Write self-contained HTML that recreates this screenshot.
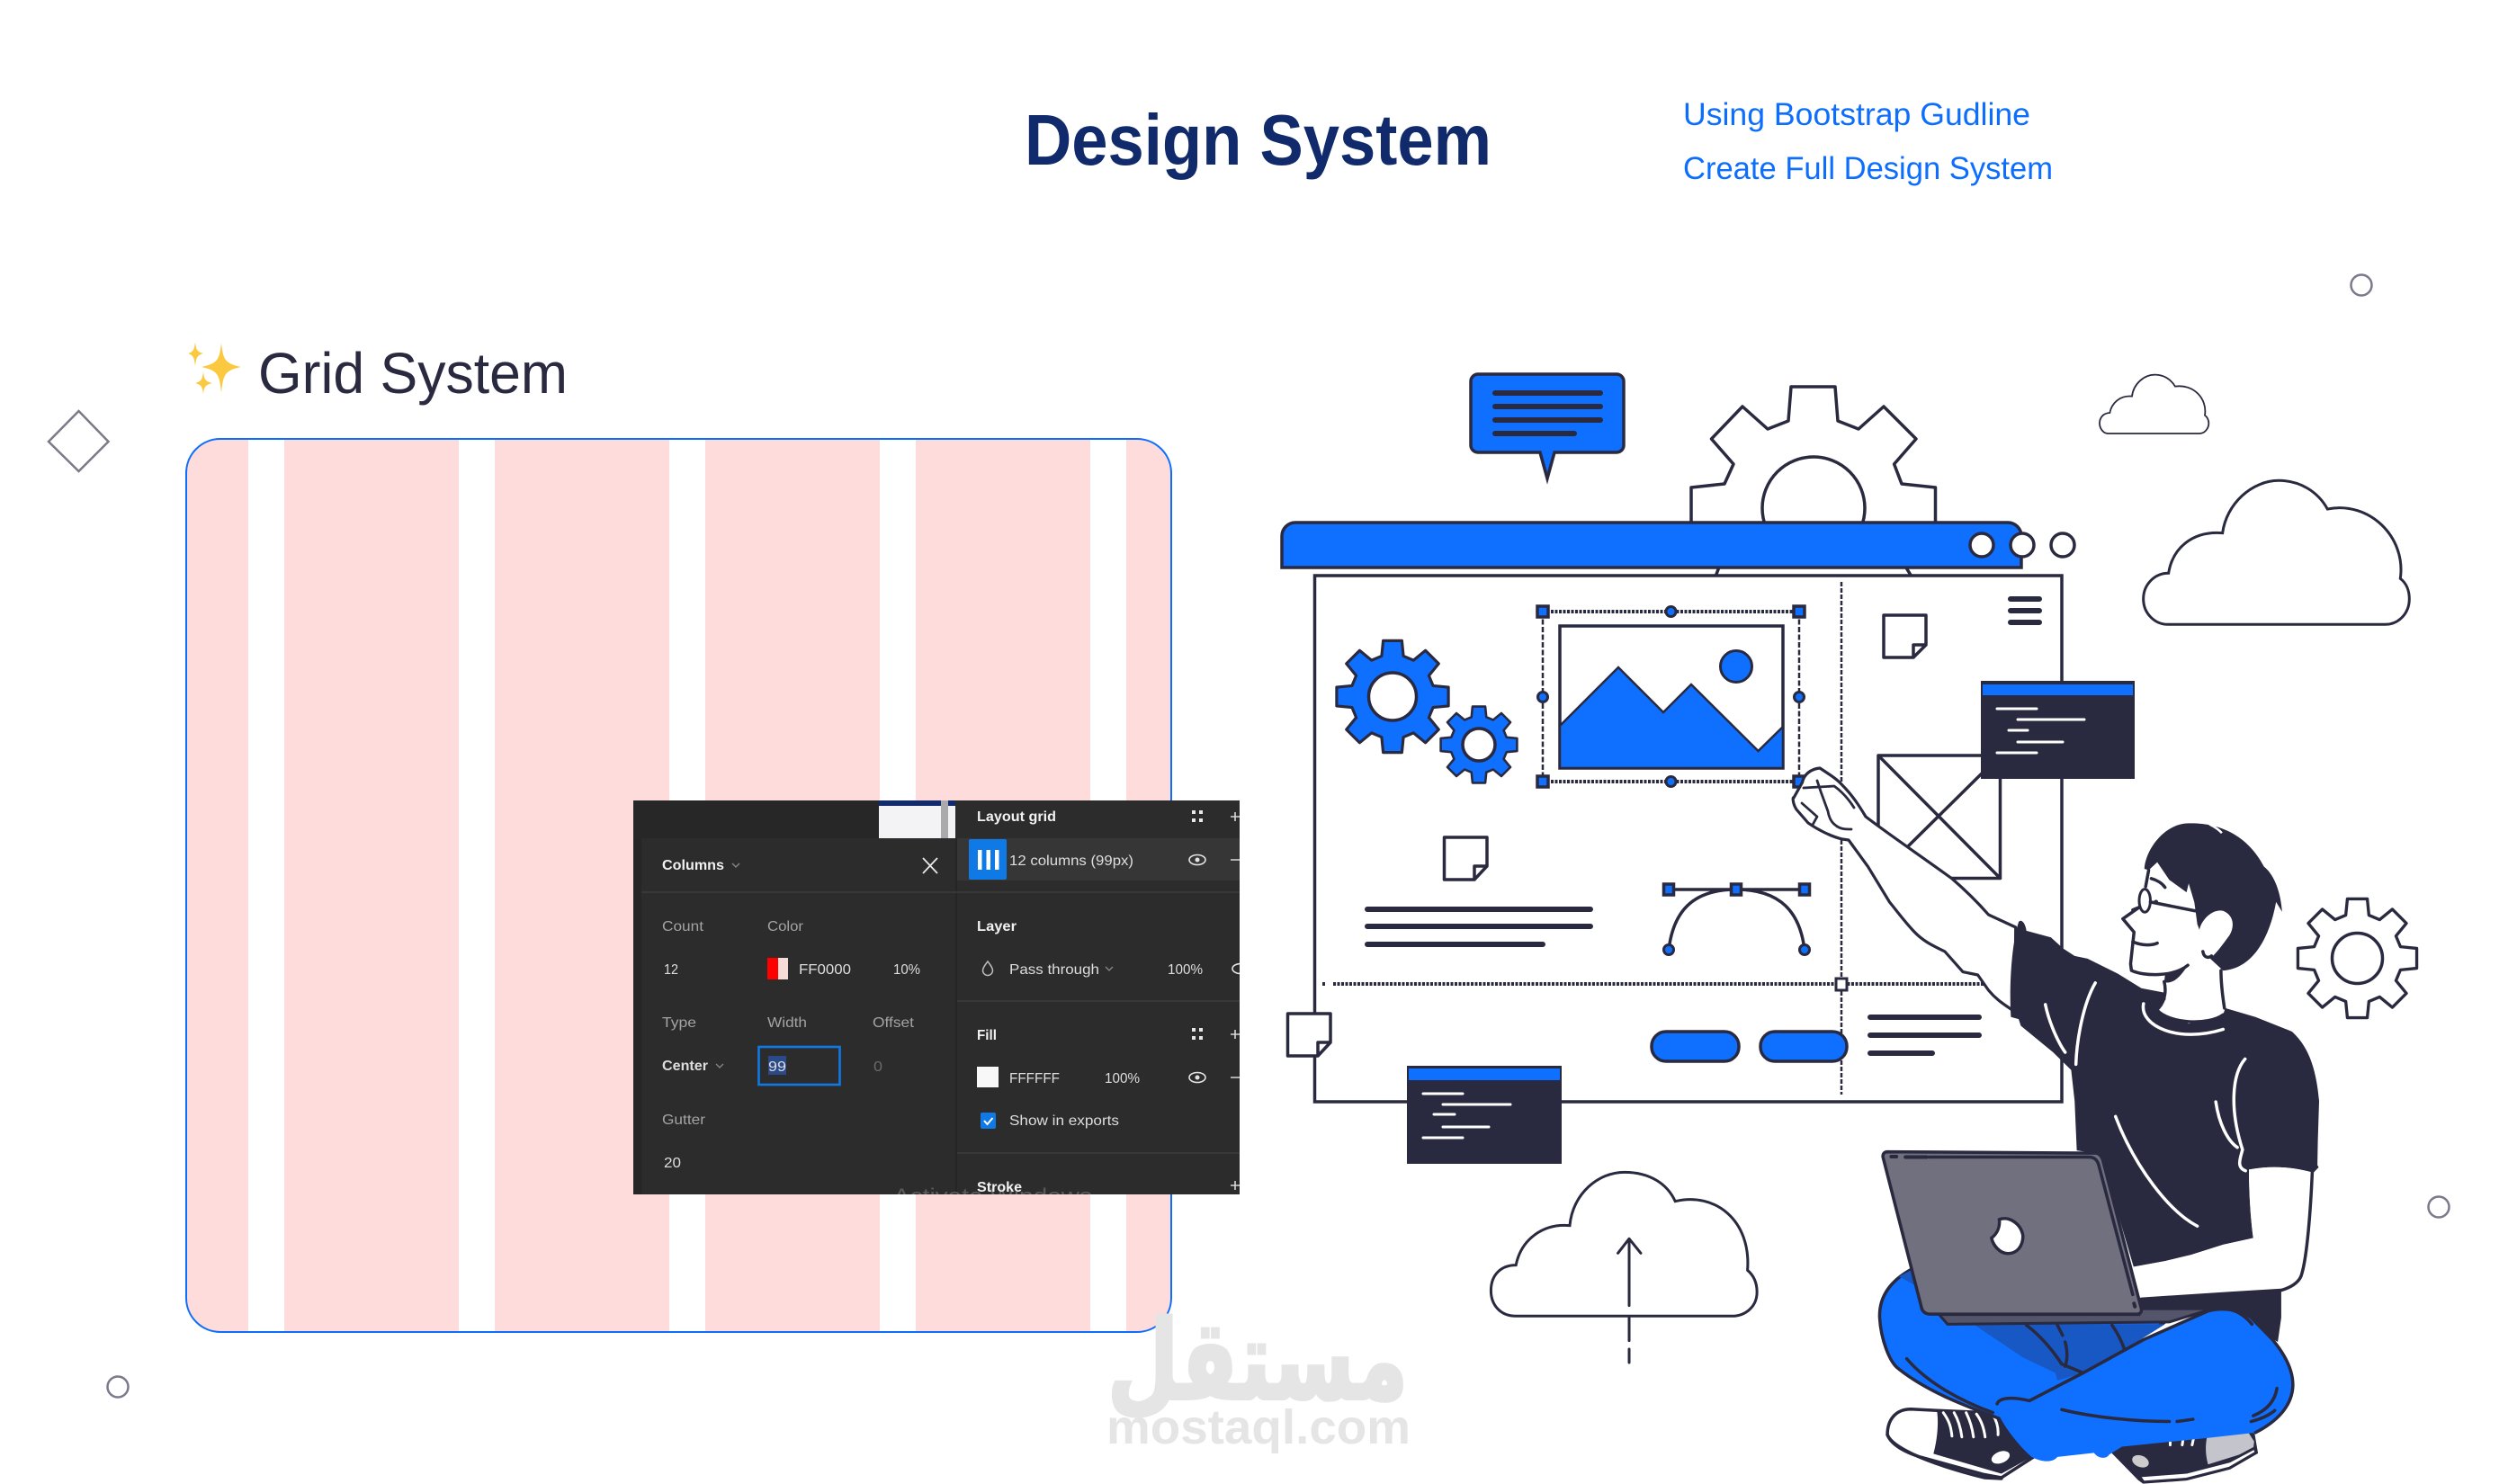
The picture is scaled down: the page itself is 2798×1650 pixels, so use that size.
<!DOCTYPE html>
<html>
<head>
<meta charset="utf-8">
<title>Design System</title>
<style>
html,body{margin:0;padding:0;background:#fff;width:2798px;height:1650px;overflow:hidden}
svg{display:block}
text{font-family:"Liberation Sans",sans-serif}
.u *{vector-effect:non-scaling-stroke}
.g{fill:#a3a3a3;font-size:16px}
.w{fill:#dedede;font-size:16px}
.b{fill:#f2f2f2;font-size:16px;font-weight:bold}
.n{stroke:#29293f;stroke-width:3.5;fill:none;stroke-linejoin:round;stroke-linecap:round}
.bar{stroke:#29293f;stroke-width:6;stroke-linecap:round;fill:none}
.code{stroke:#fff;stroke-width:3;stroke-linecap:round}
.h{fill:#0f6fff;stroke:#29293f;stroke-width:3.5}
.sl{stroke:#fff;stroke-width:3.5;fill:none;stroke-linecap:round}
</style>
</head>
<body>
<svg xmlns="http://www.w3.org/2000/svg" width="2798" height="1650" viewBox="0 0 2798 1650">
<defs>
<polygon id="gear" points="71.5,-19.2 98.6,-16.5 98.6,16.5 71.5,19.2 64.1,37 81.4,58.1 58.1,81.4 37,64.1 19.2,71.5 16.5,98.6 -16.5,98.6 -19.2,71.5 -37,64.1 -58.1,81.4 -81.4,58.1 -64.1,37 -71.5,19.2 -98.6,16.5 -98.6,-16.5 -71.5,-19.2 -64.1,-37 -81.4,-58.1 -58.1,-81.4 -37,-64.1 -19.2,-71.5 -16.5,-98.6 16.5,-98.6 19.2,-71.5 37,-64.1 58.1,-81.4 81.4,-58.1 64.1,-37"/>
<clipPath id="card"><rect x="207" y="487" width="1095" height="994" rx="38"/></clipPath>
<clipPath id="panel"><rect x="704" y="890" width="674" height="438"/></clipPath>
</defs>

<!-- header -->
<text x="1139" y="183" font-size="80" font-weight="bold" fill="#102a6b" textLength="519" lengthAdjust="spacingAndGlyphs">Design System</text>
<text x="1871" y="139" font-size="35" fill="#0d6efd" textLength="386" lengthAdjust="spacingAndGlyphs">Using Bootstrap Gudline</text>
<text x="1871" y="199" font-size="35" fill="#0d6efd" textLength="411" lengthAdjust="spacingAndGlyphs">Create Full Design System</text>

<!-- Grid system title -->
<path d="M246,381 C248,400 250,404 268,408 C250,412 248,416 246,437 C244,416 242,412 224,408 C242,404 244,400 246,381Z" fill="#fbc93f"/>
<path d="M217,380 C218,389 219,391 226,393 C219,395 218,398 217,407 C216,398 215,395 209,393 C215,391 216,389 217,380Z" fill="#fbc93f"/>
<path d="M226,413 C227,422 228,424 236,426 C228,428 227,430 226,438 C225,430 224,428 217,426 C224,424 225,422 226,413Z" fill="#fbc93f"/>
<text x="287" y="437" font-size="64" fill="#29293f" textLength="344" lengthAdjust="spacingAndGlyphs">Grid System</text>

<!-- decorations -->
<polygon points="87.5,457 120.5,491 87.5,524 54,491" fill="none" stroke="#7a7a88" stroke-width="2.5"/>
<circle cx="2625" cy="317" r="11.5" fill="none" stroke="#7a7a8c" stroke-width="2.5"/>
<circle cx="131" cy="1542" r="11.5" fill="none" stroke="#7a7a8c" stroke-width="2.5"/>
<circle cx="2711" cy="1342" r="11.5" fill="none" stroke="#7a7a8c" stroke-width="2.5"/>

<!-- grid card -->
<g clip-path="url(#card)" fill="#fedcdc">
<rect x="207" y="487" width="69" height="994"/>
<rect x="316" y="487" width="194" height="994"/>
<rect x="550" y="487" width="194" height="994"/>
<rect x="784" y="487" width="194" height="994"/>
<rect x="1018" y="487" width="194" height="994"/>
<rect x="1252" y="487" width="50" height="994"/>
</g>
<rect x="207" y="488" width="1095" height="993" rx="38" fill="none" stroke="#0d6efd" stroke-width="2"/>

<!-- dark figma panel -->
<g clip-path="url(#panel)">
<rect x="704" y="890" width="674" height="438" fill="#2c2c2c"/>
<rect x="704" y="890" width="9" height="438" fill="#262626"/>
<rect x="704" y="890" width="273" height="42" fill="#272727"/>
<rect x="1062" y="932" width="2" height="396" fill="#252525"/>
<rect x="977" y="890" width="85" height="42" fill="#f3f3f5"/>
<rect x="977" y="890" width="85" height="6" fill="#102a6b"/>
<rect x="1046" y="890" width="8" height="42" fill="#a9a9ae"/>
<rect x="1064" y="932" width="314" height="47" fill="#363636"/>
<rect x="1077" y="933" width="42" height="45" rx="2" fill="#0f7ae5"/>
<rect x="1087" y="945" width="4.5" height="22" fill="#fff"/>
<rect x="1096.5" y="945" width="4.5" height="22" fill="#fff"/>
<rect x="1106" y="945" width="4.5" height="22" fill="#fff"/>
<path d="M713,992H1378M1064,1113H1378M1064,1282H1378" stroke="#3d3d3d" stroke-width="1.5"/>
<text class="b" x="736" y="967" textLength="69" lengthAdjust="spacingAndGlyphs">Columns</text>
<path d="M814,960l4,4l4,-4M796,1183l4,4l4,-4M1229,1075l4,4l4,-4" stroke="#888" stroke-width="1.3" fill="none"/>
<path d="M1026,954l16,17M1042,954l-16,17" stroke="#e8e8e8" stroke-width="1.8"/>
<text class="g" x="736" y="1035" textLength="46" lengthAdjust="spacingAndGlyphs">Count</text>
<text class="g" x="853" y="1035" textLength="40" lengthAdjust="spacingAndGlyphs">Color</text>
<text class="w" x="738" y="1083" textLength="16" lengthAdjust="spacingAndGlyphs">12</text>
<rect x="853" y="1065" width="12" height="24" fill="#ff0000"/>
<rect x="865" y="1065" width="11" height="24" fill="#f6dcd6"/>
<text class="w" x="888" y="1083" textLength="58" lengthAdjust="spacingAndGlyphs">FF0000</text>
<text class="w" x="993" y="1083" textLength="30" lengthAdjust="spacingAndGlyphs">10%</text>
<text class="g" x="736" y="1142" textLength="38" lengthAdjust="spacingAndGlyphs">Type</text>
<text class="g" x="853" y="1142" textLength="44" lengthAdjust="spacingAndGlyphs">Width</text>
<text class="g" x="970" y="1142" textLength="46" lengthAdjust="spacingAndGlyphs">Offset</text>
<text class="w" x="736" y="1190" textLength="51" lengthAdjust="spacingAndGlyphs" font-weight="bold">Center</text>
<rect x="843.5" y="1164" width="90" height="42" fill="none" stroke="#0f7ae5" stroke-width="2.6"/>
<rect x="854" y="1174" width="20" height="21" fill="#2a4a8a"/>
<text class="w" x="854" y="1191" textLength="20" lengthAdjust="spacingAndGlyphs">99</text>
<text x="971" y="1191" font-size="16" fill="#6a6a6a" textLength="10" lengthAdjust="spacingAndGlyphs">0</text>
<text class="g" x="736" y="1250" textLength="48" lengthAdjust="spacingAndGlyphs">Gutter</text>
<text class="w" x="738" y="1298" textLength="19" lengthAdjust="spacingAndGlyphs">20</text>
<text class="b" x="1086" y="913" textLength="88" lengthAdjust="spacingAndGlyphs">Layout grid</text>
<text class="w" x="1122" y="962" textLength="138" lengthAdjust="spacingAndGlyphs">12 columns (99px)</text>
<text class="b" x="1086" y="1035" textLength="44" lengthAdjust="spacingAndGlyphs">Layer</text>
<text class="w" x="1122" y="1083" textLength="100" lengthAdjust="spacingAndGlyphs">Pass through</text>
<text class="w" x="1298" y="1083" textLength="39" lengthAdjust="spacingAndGlyphs">100%</text>
<text class="b" x="1086" y="1156" textLength="22" lengthAdjust="spacingAndGlyphs">Fill</text>
<text class="w" x="1122" y="1204" textLength="56" lengthAdjust="spacingAndGlyphs">FFFFFF</text>
<text class="w" x="1228" y="1204" textLength="39" lengthAdjust="spacingAndGlyphs">100%</text>
<text class="w" x="1122" y="1251" textLength="122" lengthAdjust="spacingAndGlyphs">Show in exports</text>
<text x="993" y="1338" font-size="24" fill="#5a5a5a" textLength="221" lengthAdjust="spacingAndGlyphs">Activate Windows</text>
<text class="b" x="1086" y="1325" textLength="50" lengthAdjust="spacingAndGlyphs">Stroke</text>
<rect x="1086" y="1186" width="24" height="23" fill="#f8f8f8"/>
<rect x="1090" y="1237" width="17" height="18" rx="2" fill="#0f7ae5"/>
<path d="M1094,1246l3.5,4l6,-7" stroke="#fff" stroke-width="2" fill="none"/>
<path d="M1098,1069c3,4 5.5,7 5.5,10a5.5,5.5 0 0 1 -11,0c0,-3 2.5,-6 5.5,-10z" fill="none" stroke="#bdbdbd" stroke-width="1.5"/>
<g fill="#e8e8e8">
<rect x="1325" y="901" width="4" height="4"/><rect x="1333" y="901" width="4" height="4"/><rect x="1325" y="910" width="4" height="4"/><rect x="1333" y="910" width="4" height="4"/>
<rect x="1325" y="1143" width="4" height="4"/><rect x="1333" y="1143" width="4" height="4"/><rect x="1325" y="1152" width="4" height="4"/><rect x="1333" y="1152" width="4" height="4"/>
</g>
<path d="M1368,908H1378M1373,903V913M1368,956H1378M1368,1198H1378M1368,1150H1378M1373,1145V1155M1368,1318H1378M1373,1313V1323" stroke="#d8d8d8" stroke-width="1.6"/>
<g fill="none" stroke="#e4e4e4" stroke-width="1.6">
<ellipse cx="1331" cy="956" rx="9" ry="5.5"/><ellipse cx="1331" cy="1198" rx="9" ry="5.5"/><ellipse cx="1379" cy="1077" rx="9" ry="5.5"/>
</g>
<circle cx="1331" cy="956" r="2.5" fill="#e4e4e4"/><circle cx="1331" cy="1198" r="2.5" fill="#e4e4e4"/>
</g>

<!-- clouds -->
<g class="u" transform="translate(2300 280) scale(.3333)">
<path d="M130,606 C115,606 102,590 102,572 C102,552 115,538 136,537 C142,505 170,478 210,482 C215,440 250,410 287,410 C315,410 340,425 354,449 C415,440 462,490 453,545 C462,552 466,562 466,572 C466,590 452,606 435,606 Z" fill="#fff" stroke="#29293f" stroke-width="1.8"/>
<path d="M330,1243 C285,1243 248,1205 248,1158 C248,1110 285,1072 332,1072 C345,990 410,930 512,938 C525,840 610,763 700,763 C770,763 830,800 862,858 C1000,830 1125,950 1105,1090 C1125,1105 1135,1130 1135,1158 C1135,1205 1100,1243 1055,1243 Z" fill="#fff" stroke="#29293f" stroke-width="3"/>
</g>
<g class="u" transform="translate(1600 1250) scale(.4785 .3333)">
<path d="M178,640 C140,640 120,600 120,555 C120,500 145,470 178,470 C190,385 240,330 303,338 C310,230 370,160 430,160 C490,160 530,200 548,257 C640,225 725,320 716,487 C735,510 738,540 738,560 C738,610 710,640 680,640 Z" fill="#fff" stroke="#29293f" stroke-width="3"/>
<path d="M441,382V605M415,430L441,382L468,430M441,645V722M441,750V795" fill="none" stroke="#29293f" stroke-width="3" stroke-linecap="round" stroke-linejoin="round"/>
</g>

<!-- speech bubble -->
<path d="M1643,416H1797a8,8 0 0 1 8,8V495a8,8 0 0 1 -8,8H1728L1720,532L1712,503H1643a8,8 0 0 1 -8,-8V424a8,8 0 0 1 8,-8Z" fill="#0f6fff" stroke="#29293f" stroke-width="3.5"/>
<path class="bar" d="M1662,437H1779M1662,452H1779M1662,467H1779M1662,482H1750"/>

<!-- big gear behind bar -->
<polygon points="1880,585 1880,542 1917,538 1927,516 1902.5,488 1937,452 1965,477 1988,468 1991,430 2040,430 2043,468 2066,477 2094,452 2130,488 2105.6,516 2114,538 2151.5,542 2151.5,585" class="n" style="fill:#fff"/>
<circle cx="2016" cy="565" r="57" class="n" style="fill:#fff"/>
<path class="n" d="M1912,628L1907,641M2117,628L2125,641"/>

<!-- main window -->
<rect x="1461.5" y="640" width="830.5" height="585" fill="#fff" stroke="#29293f" stroke-width="3.5"/>

<!-- top bar -->
<path d="M1425,631V596a15,15 0 0 1 15,-15H2232a15,15 0 0 1 15,15V631Z" fill="#0f6fff" stroke="#29293f" stroke-width="3.5"/>
<circle cx="2203" cy="606" r="13" fill="#fff" stroke="#29293f" stroke-width="3.5"/>
<circle cx="2248" cy="606" r="13" fill="#fff" stroke="#29293f" stroke-width="3.5"/>
<circle cx="2293" cy="606" r="13" fill="#fff" stroke="#29293f" stroke-width="3.5"/>

<!-- guide lines -->
<path d="M2047,647V1217" stroke="#29293f" stroke-width="2.5" stroke-dasharray="5 2" fill="none"/>
<path d="M1470,1094H1474M1482,1094H2205" stroke="#29293f" stroke-width="4" stroke-dasharray="3 1.5" fill="none"/>
<rect x="2041" y="1088" width="12" height="13" fill="#fff" stroke="#29293f" stroke-width="3"/>

<!-- hamburger -->
<path class="bar" d="M2235,666H2267M2235,679H2267M2235,692H2267"/>

<!-- selection -->
<path d="M1715,680H2000M1715,869H2000" stroke="#29293f" stroke-width="4" stroke-dasharray="3 1.5" fill="none"/>
<path d="M1715,680V869M2000,680V869" stroke="#29293f" stroke-width="2.5" stroke-dasharray="6 2.5" fill="none"/>
<rect x="1734" y="696" width="248" height="158" fill="#fff" stroke="#29293f" stroke-width="3.5"/>
<polygon points="1734,807 1799,742 1849,792 1880,761 1954.5,835 1982,808 1982,854 1734,854" fill="#0f6fff" stroke="#29293f" stroke-width="2.5"/>
<circle cx="1930" cy="741" r="17.5" fill="#0f6fff" stroke="#29293f" stroke-width="3"/>
<rect class="h" x="1709" y="674" width="12" height="12"/>
<rect class="h" x="1994" y="674" width="12" height="12"/>
<rect class="h" x="1709" y="863" width="12" height="12"/>
<rect class="h" x="1994" y="863" width="12" height="12"/>
<circle class="h" cx="1857.5" cy="680" r="5.5" style="stroke-width:3"/>
<circle class="h" cx="1857.5" cy="869" r="5.5" style="stroke-width:3"/>
<circle class="h" cx="1715" cy="775" r="5.5" style="stroke-width:3"/>
<circle class="h" cx="2000" cy="775" r="5.5" style="stroke-width:3"/>

<!-- blue gears -->
<g class="u">
<use href="#gear" transform="translate(1548 774.5) scale(.63)" fill="#0f6fff" stroke="#29293f" stroke-width="5" stroke-linejoin="round"/>
<circle cx="1548" cy="774.5" r="26.5" fill="#fff" stroke="#29293f" stroke-width="3.5"/>
<use href="#gear" transform="translate(1644 828) scale(.43)" fill="#0f6fff" stroke="#29293f" stroke-width="6" stroke-linejoin="round"/>
<circle cx="1644" cy="828" r="18" fill="#fff" stroke="#29293f" stroke-width="3.5"/>
<use href="#gear" transform="translate(2620.5 1065.5) scale(.67)" fill="#fff" stroke="#29293f" stroke-width="5" stroke-linejoin="round"/>
<circle cx="2620.5" cy="1065.5" r="28" fill="#fff" stroke="#29293f" stroke-width="3.5"/>
</g>

<!-- notes -->
<path class="n" style="fill:#fff" d="M2094,684H2141V717L2127,731H2094ZM2141,717H2127V731"/>
<path class="n" style="fill:#fff" d="M1605.5,931H1653V963L1639,978H1605.5ZM1653,963H1639V978"/>
<path class="n" style="fill:#fff" d="M1431.5,1127H1479V1159L1465,1174H1431.5ZM1479,1159H1465V1174"/>

<!-- text lines -->
<path class="bar" d="M1520,1011H1768M1520,1030H1768M1520,1050H1715M2079,1131H2200M2079,1151H2200M2079,1171H2148"/>

<!-- bezier -->
<path class="n" d="M1855,1056C1860,1015 1880,989 1930,989C1980,989 2001,1015 2006,1056M1855,989H2006"/>
<rect class="h" x="1849.5" y="983" width="11" height="12"/>
<rect class="h" x="1924.5" y="983" width="11" height="12"/>
<rect class="h" x="2000.5" y="983" width="11" height="12"/>
<circle class="h" cx="1855" cy="1056" r="5.5" style="stroke-width:3"/>
<circle class="h" cx="2006" cy="1056" r="5.5" style="stroke-width:3"/>

<!-- buttons -->
<rect x="1836" y="1147" width="97" height="33" rx="16" fill="#0f6fff" stroke="#29293f" stroke-width="3.5"/>
<rect x="1957" y="1147" width="96" height="33" rx="16" fill="#0f6fff" stroke="#29293f" stroke-width="3.5"/>

<!-- X box -->
<path class="n" d="M2088,840H2210M2088,840V925M2223.5,840V976.5H2160M2088,840L2223.5,976.5M2203,860L2120,942"/>

<!-- code windows -->
<rect x="2202" y="757" width="171" height="109" fill="#29293f"/>
<rect x="2204" y="761" width="167" height="12" fill="#0f6fff"/>
<path class="code" d="M2220,788H2264M2243,800H2317M2233,812H2254M2243,825H2293M2220,837H2264"/>
<rect x="1564" y="1185" width="172" height="109" fill="#29293f"/>
<rect x="1566" y="1188" width="168" height="13" fill="#0f6fff"/>
<path class="code" d="M1582,1216H1626M1604,1228H1679M1594,1239H1617M1604,1253H1655M1582,1265H1626"/>

<!-- raised arm + hand -->
<path d="M2074,908 C2100,928 2140,955 2170,977 C2185,990 2200,1005 2210.5,1017 L2240.7,1031 L2240,1125 L2234,1121 C2225,1115 2218,1110 2210.5,1101 L2198.6,1084 L2182,1080.6 L2162,1058 C2150,1052 2138,1047 2127,1035 C2115,1022 2108,1012 2100.5,1003 L2076.5,963.6 L2055,934 L2048,933 C2035,930 2020,922 2010,915 L1997,900 C1992,892 1993,885 1994,887 L2003.5,870 C2005,862 2012,855 2023,854 C2032,860 2042,866 2048,873 C2060,885 2068,898 2074,908Z" fill="#fff" stroke="#29293f" stroke-width="3.2" stroke-linejoin="round"/>
<path class="n" style="stroke-width:2.8" d="M2005,876L2039,874C2050,882 2056,890 2061,898M2032,902C2033,908 2035,914 2041,918C2046,922 2052,922 2058,922M2003,893L2020,908L2015,917M2020,868L2024,880L2032,902"/>

<!-- person in zoom coordinates -->
<g class="u" transform="translate(2000 880) scale(.4785 .4916)">
<path d="M790,1150 L1120,1128 L1120,1190 L1112,1245 L1000,1180 L800,1180Z" fill="#29293f"/>
<path d="M510,295 C515,288 525,295 528,315 L585,330 L613,355 L640,372 L670,378 L740,412 L795,445 L848,455 L852,470 L835,495 L905,525 L985,505 L990,490 L1060,510 L1145,543 C1175,570 1200,610 1208,700 L1205,790 L1204,845 L1207,850 L1195,862 C1150,850 1100,845 1045,855 C1045,900 1048,960 1055,1010 L985,1025 L910,1048 L850,1062 L777,1075 L700,820 L645,812 L640,700 L632,630 L590,590 L515,530 L510,515 L492,510 C488,450 492,350 510,295Z" fill="#29293f"/>
<path d="M1045,855 C1100,845 1150,850 1192,862 C1188,950 1180,1050 1168,1090 C1165,1105 1150,1115 1120,1128 L1000,1135 L795,1148 L777,1075 L850,1062 L910,1048 L985,1025 L1055,1010 C1048,960 1045,900 1045,855Z" fill="#fff"/>
<path class="n" d="M1192,862C1188,950 1180,1050 1168,1090C1165,1105 1150,1120 1120,1128L1000,1135L795,1148"/>
<path d="M810,170 L790,250 L752,288 L778,318 L770,390 L775,408 L845,435 L852,470 L835,495 C860,525 950,530 985,505 L980,405 L1000,300 L900,180Z" fill="#fff"/>
<path d="M802,175 C805,130 850,72 905,72 C970,70 1040,95 1080,170 C1100,185 1118,220 1122,272 L1108,250 C1095,320 1060,400 985,405 L955,378 L925,300 L918,250 L905,208 L900,228 L860,200 L832,160 L812,178 Z" fill="#29293f"/>
<path d="M930,312 C935,290 960,265 985,270 C1010,280 1012,305 1000,325 C985,345 970,365 955,378 C945,380 938,372 938,362Z" fill="#fff"/>
<path d="M953,74C965,80 975,86 982,94" stroke="#fff" stroke-width="2.5" fill="none"/>
<path class="n" d="M790,262L752,288L778,318L770,390L772,405C800,418 870,420 903,393M775,340C800,350 820,348 832,343M848,430C852,445 853,470 835,490M980,405C980,440 985,470 988,490M832,495C860,525 950,530 985,505M938,362C940,375 950,378 958,372M818,197C830,200 843,207 850,217M812,178L805,215"/>
<path d="M848,432C870,435 885,420 903,393L850,416Z" fill="#29293f"/>
<ellipse cx="803" cy="247" rx="13" ry="26" fill="#fff" stroke="#29293f" stroke-width="3"/>
<path class="n" d="M816,250L920,270M775,268L790,262"/>
<circle cx="829" cy="250" r="5" fill="#29293f"/>
<path class="sl" d="M572,482C580,520 600,565 618,590M688,433C660,480 645,560 643,617M735,735C780,850 860,950 925,983M1036,605C1005,640 1000,720 1030,810C1025,830 1015,850 1037,858M968,702C975,750 995,790 1018,805M800,480C790,530 880,570 985,538"/>

<path d="M205,1455 C205,1420 225,1397 260,1397 L320,1400 L440,1405 L490,1440 L545,1505 L470,1552 L430,1545 L280,1505 C250,1495 215,1480 205,1455Z" fill="#fff" stroke="#29293f" stroke-width="3.5"/>
<path d="M320,1400 L440,1405 L490,1440 L540,1505 L470,1543 L312,1498 C320,1470 325,1430 320,1400Z" fill="#29293f"/>
<path class="sl" style="stroke-width:3" d="M335,1405C350,1425 353,1440 355,1458M360,1405C372,1425 376,1445 378,1460M388,1405C398,1425 403,1445 405,1460M412,1408C425,1425 430,1445 432,1460M450,1410C460,1425 463,1440 462,1455"/>
<ellipse cx="468" cy="1506" rx="22" ry="13" transform="rotate(-20 468 1506)" fill="#fff"/>
<path class="n" d="M205,1455C215,1480 280,1515 430,1552L470,1554"/>

<path d="M725,1490 L790,1555 L800,1562 L900,1555 L1000,1530 L1062,1495 L1055,1455 L1035,1435 L950,1450 L750,1480Z" fill="#29293f" stroke="#29293f" stroke-width="3.5"/>
<path d="M950,1450 L1035,1437 L1057,1470 L1055,1490 L950,1522 C942,1495 944,1470 950,1450Z" fill="#c4c4cc"/>
<path d="M790,1548 L900,1540 L1000,1515 L1058,1485 L1062,1495 L1000,1530 L900,1555 L800,1562Z" fill="#fff" stroke="#29293f" stroke-width="3"/>
<ellipse cx="793" cy="1515" rx="20" ry="13" transform="rotate(20 793 1515)" fill="#ccc"/>
<path class="sl" style="stroke-width:3" d="M862,1478V1472M890,1478L892,1465M913,1478L917,1460"/>

<path d="M262,1080 C215,1105 185,1140 187,1190 C190,1240 210,1290 230,1305 C300,1360 400,1395 470,1420 L660,1315 L850,1200 L330,1180 Z" fill="#0f6fff" stroke="#29293f" stroke-width="3.5" stroke-linejoin="round"/>
<path d="M405,1205 L850,1205 L760,1260 L660,1315 L600,1332 L595,1315 L520,1280Z M232,1097 L262,1082 L275,1120Z" fill="#1758c4"/>
<path class="n" d="M250,1283C300,1340 380,1380 450,1405M528,1207C560,1230 590,1265 610,1295L660,1315M600,1207L612,1230M618,1245C625,1270 622,1290 618,1300M727,1207C740,1225 750,1245 757,1265"/>

<path d="M325,1183 L345,1205 L860,1200 L960,1170 L795,1170 L790,1183Z" fill="#54546a" stroke="#29293f" stroke-width="3"/>

<path d="M460,1385 C465,1372 490,1368 535,1378 L660,1315 L800,1240 L950,1175 C990,1165 1030,1175 1050,1190 L1100,1240 C1130,1275 1148,1310 1147,1345 C1145,1390 1110,1425 1060,1450 L950,1462 L750,1482 L720,1500 C715,1510 695,1510 685,1496 L600,1505 C590,1518 565,1518 540,1505 C510,1480 470,1430 460,1400Z" fill="#0f6fff"/>
<path class="n" d="M460,1385C465,1372 490,1368 535,1378L660,1315L800,1240L950,1175C990,1165 1030,1175 1050,1190L1100,1240C1130,1275 1148,1310 1147,1345C1145,1390 1110,1425 1060,1450M610,1398C680,1415 780,1425 860,1425M878,1425L915,1420M1110,1350C1105,1380 1085,1400 1055,1412M1105,1400C1090,1412 1070,1420 1050,1425M1000,1172C1020,1175 1040,1190 1052,1205"/>

<path d="M205,815 L690,818 C700,820 703,828 705,832 L795,1170 C796,1178 792,1182 785,1182 L305,1182 C295,1182 288,1178 285,1170 L195,828 C193,820 198,815 205,815Z" fill="#70707f" stroke="#29293f" stroke-width="3.5" stroke-linejoin="round"/>
<path class="n" d="M303,827H675C688,828 693,835 696,845L775,1138"/>
<path class="n" style="stroke-width:4" d="M214,826H226M247,827H297M778,1158L780,1165"/>
<path d="M465,968 C485,960 515,975 520,1005 C520,1030 505,1045 485,1045 C465,1045 450,1025 447,1010 C460,1000 467,985 465,968 Z" fill="#fff" stroke="#29293f" stroke-width="3.5"/>
</g>

<!-- watermark -->
<text x="1231" y="1555" font-size="122" font-weight="bold" fill="#e5e5e5" stroke="#e5e5e5" stroke-width="4" direction="rtl" text-anchor="end" style="font-family:'DejaVu Sans','Noto Sans CJK SC',sans-serif" textLength="334" lengthAdjust="spacingAndGlyphs">مستقل</text>
<text x="1230" y="1605" font-size="54" font-weight="bold" fill="#e5e5e5" textLength="338" lengthAdjust="spacingAndGlyphs">mostaql.com</text>
</svg>
</body>
</html>
